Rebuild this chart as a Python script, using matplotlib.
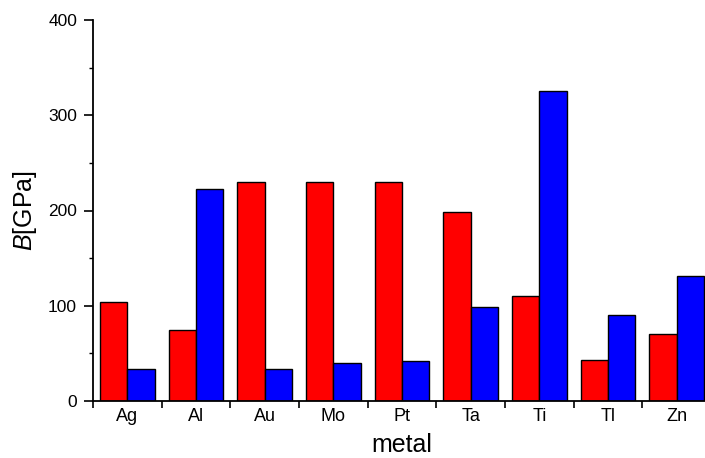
import matplotlib
matplotlib.use("Agg")
import matplotlib.pyplot as plt
import numpy as np

metals = ["Ag", "Al", "Au", "Mo", "Pt", "Ta", "Ti", "Tl", "Zn"]
red_vals = [104, 75, 230, 230, 230, 198, 110, 43, 70]
blue_vals = [34, 223, 34, 40, 42, 99, 325, 90, 131]

plt.rcParams["font.family"] = "Liberation Sans"
plt.rcParams["mathtext.fontset"] = "custom"
plt.rcParams["mathtext.rm"] = "Liberation Sans"
plt.rcParams["mathtext.it"] = "Liberation Sans:italic"

fig = plt.figure(figsize=(7.05, 4.58), dpi=100)
ax = fig.add_axes([93 / 705, 57 / 458, 618 / 705, 381 / 458])

x = np.arange(len(metals))
ax.bar(x + 0.3, red_vals, width=0.4, color="#ff0000", edgecolor="black", linewidth=1.0)
ax.bar(x + 0.7, blue_vals, width=0.4, color="#0000ff", edgecolor="black", linewidth=1.0)

ax.set_xlim(0, len(metals))
ax.set_ylim(0, 400)

ax.spines["top"].set_visible(False)
ax.spines["right"].set_visible(False)
for s in ("left", "bottom"):
    ax.spines[s].set_linewidth(1.3)

# category boundaries as ticks, names centred between them
ax.set_xticks(np.arange(len(metals) + 1))
ax.set_xticklabels([])
ax.set_xticks(x + 0.5, minor=True)
ax.set_xticklabels(metals, minor=True, fontsize=13)
ax.tick_params(axis="x", which="major", direction="out", length=5, width=1.2)
ax.tick_params(axis="x", which="minor", length=0, pad=5)

ax.set_yticks([0, 100, 200, 300, 400])
ax.set_yticks([50, 150, 250, 350], minor=True)
ax.tick_params(axis="y", which="major", direction="out", length=6.5, width=1.2,
               labelsize=12.5, pad=5)
ax.tick_params(axis="y", which="minor", direction="out", length=3, width=1.0)

ax.set_xlabel("metal", fontsize=18)
ax.set_ylabel("$B$[GPa]", fontsize=18)
ax.yaxis.set_label_coords(-0.088, 0.5)
ax.xaxis.set_label_coords(0.5, -0.083)

fig.savefig("out.png", dpi=100)
